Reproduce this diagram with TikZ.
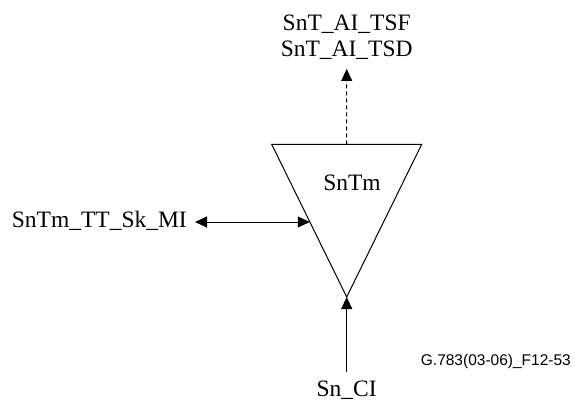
\documentclass[tikz,border=0pt]{standalone}
\usepackage{fontspec}
\setmainfont{Liberation Serif}
\newfontfamily\arialfont{Liberation Sans}
\usetikzlibrary{arrows.meta,calc}
\begin{document}
\begin{tikzpicture}[x=1pt,y=-1pt,
  lbl/.style={inner sep=0pt,font=\fontsize{23.5}{28}\selectfont},
  ln/.style={line width=1pt,black},
  tip/.style={-{Triangle[length=12pt,width=11pt]}},
  dtip/.style={{Triangle[length=12pt,width=11pt]}-{Triangle[length=12pt,width=11pt]}},
]
\useasboundingbox (0,0) rectangle (575,401);
% triangle
\coordinate (tl) at (271.7,144.3);
\coordinate (tr) at (421.7,144.3);
\coordinate (bot) at (346.7,297);
\draw[ln,line join=miter] (tl) -- (tr) -- (bot) -- cycle;
\coordinate (topmid) at ($(tl)!0.5!(tr)$);
\coordinate (leftpt) at ($(tl)!0.508!(bot)$);
\node[lbl] (sntm) at (352,183) {SnTm};
% top labels
\node[lbl,anchor=base] (top1) at (346.7,31) {SnT\_AI\_TSF};
\node[lbl,anchor=base] (top2) at (346.7,57) {SnT\_AI\_TSD};
\coordinate (dashend) at (346.7,69);
\draw[ln,tip,dash pattern=on 4pt off 3pt] (topmid) -- (dashend);
% left label
\node[lbl,anchor=base east] (mi) at (187,227) {SnTm\_TT\_Sk\_MI};
\coordinate (leftend) at (195,222);
\draw[ln,dtip] (leftend) -- (leftend -| leftpt);
% bottom
\node[lbl,anchor=base] (ci) at (346.7,396) {Sn\_CI};
\coordinate (botend) at (346.7,372);
\draw[ln,tip] (botend) -- (bot);
% figure id
\node[inner sep=0pt,anchor=base east,font=\arialfont\fontsize{15.5}{18}\selectfont] (fid) at (571,365) {G.783(03-06)\_F12-53};
\end{tikzpicture}
\end{document}
